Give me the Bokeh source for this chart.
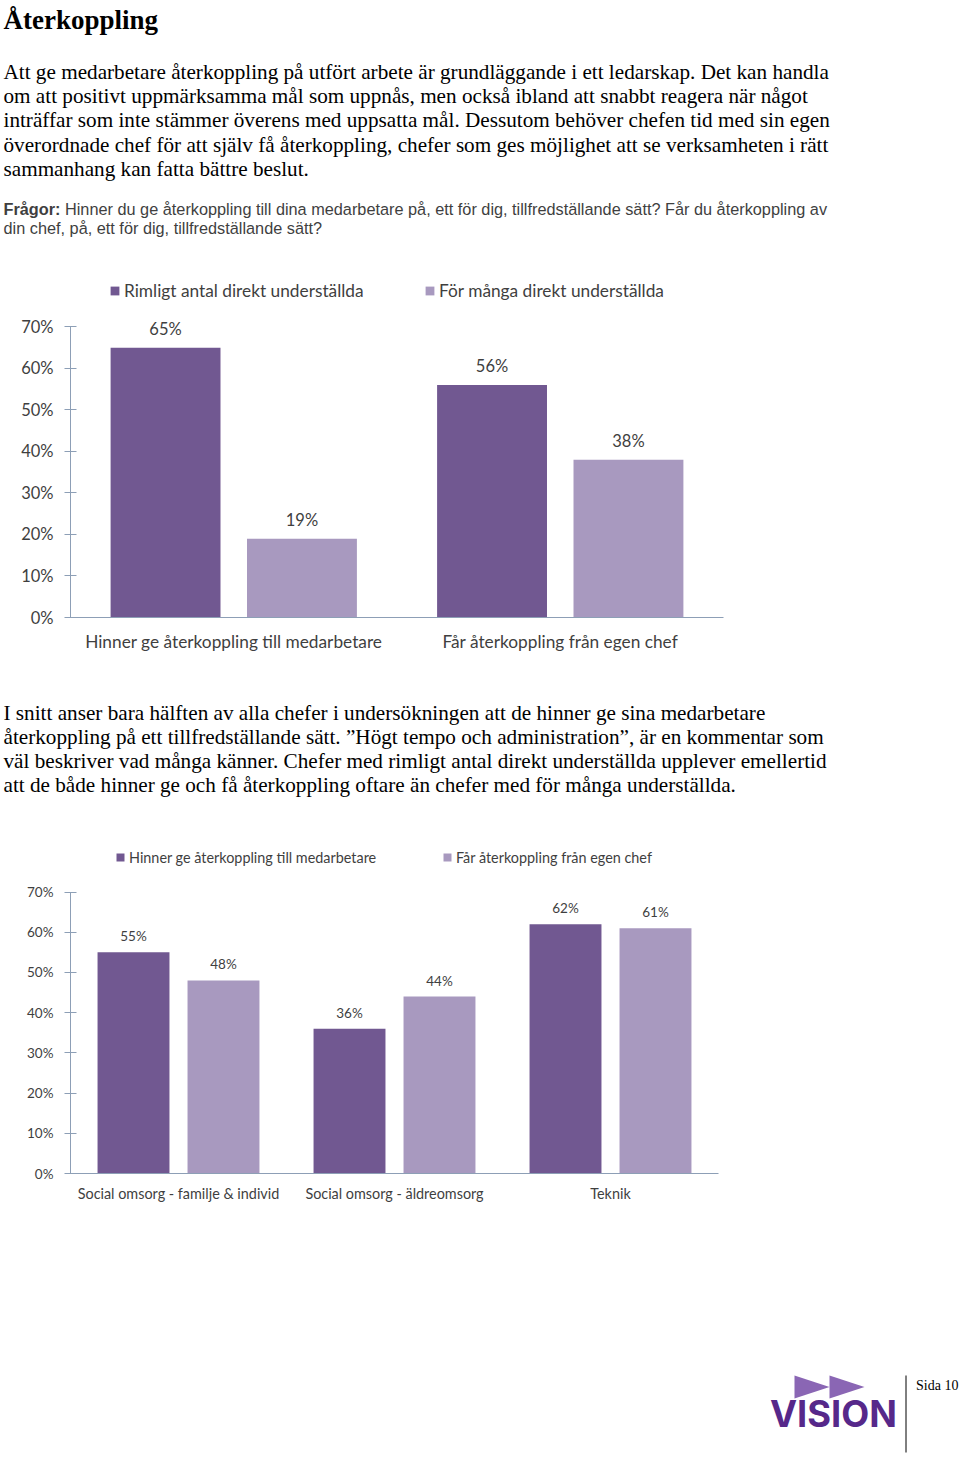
from bokeh.plotting import figure
from bokeh.layouts import column
from bokeh.models import (Range1d, FactorRange, ColumnDataSource, FixedTicker,
                          NumeralTickFormatter, Legend, LegendItem)
from bokeh.transform import dodge
from bokeh.core.properties import value
from bokeh.embed import file_html
from bokeh.resources import INLINE

# ---------------- data ----------------
HEADING = "Återkoppling"
INTRO_LINES = [
    "Att ge medarbetare återkoppling på utfört arbete är grundläggande i ett ledarskap. Det kan handla",
    "om att positivt uppmärksamma mål som uppnås, men också ibland att snabbt reagera när något",
    "inträffar som inte stämmer överens med uppsatta mål. Dessutom behöver chefen tid med sin egen",
    "överordnade chef för att själv få återkoppling, chefer som ges möjlighet att se verksamheten i rätt",
    "sammanhang kan fatta bättre beslut.",
]
QUESTION_LABEL = "Frågor:"
QUESTION_LINES = [
    "Hinner du ge återkoppling till dina medarbetare på, ett för dig, tillfredställande sätt? Får du återkoppling av",
    "din chef, på, ett för dig, tillfredställande sätt?",
]
MID_LINES = [
    "I snitt anser bara hälften av alla chefer i undersökningen att de hinner ge sina medarbetare",
    "återkoppling på ett tillfredställande sätt. \u201dHögt tempo och administration\u201d, är en kommentar som",
    "väl beskriver vad många känner. Chefer med rimligt antal direkt underställda upplever emellertid",
    "att de både hinner ge och få återkoppling oftare än chefer med för många underställda.",
]

C1_CATEGORIES = ["Hinner ge återkoppling till medarbetare", "Får återkoppling från egen chef"]
C1_SERIES = ["Rimligt antal direkt underställda", "För många direkt underställda"]
C1_RIMLIGT = [0.65, 0.56]
C1_FOR_MANGA = [0.19, 0.38]

C2_CATEGORIES = ["Social omsorg - familje & individ", "Social omsorg - äldreomsorg", "Teknik"]
C2_SERIES = ["Hinner ge återkoppling till medarbetare", "Får återkoppling från egen chef"]
C2_HINNER = [0.55, 0.36, 0.62]
C2_FAR = [0.48, 0.44, 0.61]

Y_TICKS = [0.0, 0.1, 0.2, 0.3, 0.4, 0.5, 0.6, 0.7]
PAGE_LABEL = "Sida 10"
LOGO_TEXT = "VISION"

# ---------------- style ----------------
W = 960
DARK = "#715891"
LIGHT = "#A899BF"
AXIS = "#8D9FB6"
LABEL = "#3F3F3F"
SERIF = value("Liberation Serif")
SANS = value("Liberation Sans")
CHART_FONT = "Lato"


def pct(v):
    return f"{round(v * 100)}%"


def text_fig(h):
    p = figure(width=W, height=h, x_range=Range1d(0, W), y_range=Range1d(h, 0),
               x_axis_type=None, y_axis_type=None, toolbar_location=None,
               output_backend="svg", min_border=0, frame_align=False)
    p.outline_line_color = None
    return p


# ---------------- top text ----------------
top = text_fig(262)
top.text(x=[3], y=[19], text=[HEADING], text_font=SERIF, text_font_style="bold",
         text_font_size="27px", text_color="black", text_baseline="alphabetic")
top.text(x=[3] * len(INTRO_LINES), y=[71.3 + 24.25 * i for i in range(len(INTRO_LINES))],
         text=INTRO_LINES, text_font=SERIF, text_font_size="21.2px", text_color="black",
         text_baseline="alphabetic")
top.text(x=[3], y=[208.5], text=[QUESTION_LABEL], text_font=SANS, text_font_style="bold",
         text_font_size="16.3px", text_color=LABEL, text_baseline="alphabetic")
top.text(x=[64.5, 3], y=[208.5, 227.5], text=QUESTION_LINES, text_font=SANS,
         text_font_size="16.3px", text_color=LABEL, text_baseline="alphabetic")


# ---------------- chart helper ----------------
def bar_chart(height, categories, series, a_vals, b_vals, y_end, border_right, border_bottom,
              offset, width, fs_num, fs_lbl, label_gap, legend_x, legend_y, glyph,
              label_standoff, cat_standoff):
    p = figure(width=W, height=height, x_range=FactorRange(*categories),
               y_range=Range1d(0, y_end), toolbar_location=None, output_backend="svg",
               min_border_left=70, min_border_right=border_right, min_border_top=0,
               min_border_bottom=border_bottom, frame_align=False)
    src = ColumnDataSource(dict(cat=categories, a=a_vals, b=b_vals,
                                a_lbl=[pct(v) for v in a_vals],
                                b_lbl=[pct(v) for v in b_vals]))
    xa = dodge("cat", -offset, range=p.x_range)
    xb = dodge("cat", offset, range=p.x_range)
    ra = p.vbar(x=xa, top="a", width=width, source=src, fill_color=DARK, line_color=None)
    rb = p.vbar(x=xb, top="b", width=width, source=src, fill_color=LIGHT, line_color=None)
    for xx, col in ((xa, "a"), (xb, "b")):
        p.text(x=xx, y=col, text=col + "_lbl", source=src, text_align="center",
               text_baseline="middle", y_offset=-label_gap, text_font=value(CHART_FONT),
               text_font_size=fs_num, text_color=LABEL)

    for r, name, lx in ((ra, series[0], legend_x[0]), (rb, series[1], legend_x[1])):
        leg = Legend(items=[LegendItem(label=name, renderers=[r])], location=(lx, legend_y),
                     padding=0, margin=0, spacing=0, glyph_width=glyph, glyph_height=glyph,
                     label_standoff=label_standoff, label_height=20,
                     label_text_font=CHART_FONT, label_text_font_size=fs_lbl,
                     label_text_color=LABEL, background_fill_alpha=0, border_line_alpha=0)
        p.add_layout(leg)

    yax = p.yaxis[0]
    yax.ticker = FixedTicker(ticks=Y_TICKS)
    yax.formatter = NumeralTickFormatter(format="0%")
    yax.bounds = (0, 0.7)
    yax.axis_line_color = AXIS
    yax.major_tick_line_color = AXIS
    yax.major_tick_in = 6
    yax.major_tick_out = 6
    yax.minor_tick_line_color = None
    yax.major_label_standoff = 11
    yax.major_label_text_font = CHART_FONT
    yax.major_label_text_font_size = fs_num
    yax.major_label_text_color = LABEL

    xax = p.xaxis[0]
    xax.axis_line_color = AXIS
    xax.major_tick_line_color = None
    xax.major_tick_in = 0
    xax.major_tick_out = 0
    xax.minor_tick_line_color = None
    xax.major_label_standoff = cat_standoff
    xax.major_label_text_font = CHART_FONT
    xax.major_label_text_font_size = fs_lbl
    xax.major_label_text_color = LABEL

    p.grid.visible = False
    p.outline_line_color = None
    return p


c1 = bar_chart(417, C1_CATEGORIES, C1_SERIES, C1_RIMLIGT, C1_FOR_MANGA, y_end=0.8554,
               border_right=237, border_bottom=62, offset=0.2089, width=0.3366,
               fs_num="16.5px", fs_lbl="17.3px", label_gap=19, legend_x=(39, 354),
               legend_y=316, glyph=11, label_standoff=4, cat_standoff=13)

mid = text_fig(141)
mid.text(x=[3] * len(MID_LINES), y=[33.0 + 24.2 * i for i in range(len(MID_LINES))],
         text=MID_LINES, text_font=SERIF, text_font_size="21.2px", text_color="black",
         text_baseline="alphabetic")

c2 = bar_chart(405, C2_CATEGORIES, C2_SERIES, C2_HINNER, C2_FAR, y_end=0.8778,
               border_right=242, border_bottom=52, offset=0.2083, width=0.333,
               fs_num="13.5px", fs_lbl="14.4px", label_gap=16, legend_x=(45, 372),
               legend_y=306, glyph=10, label_standoff=4, cat_standoff=11)

# ---------------- footer with logo ----------------
bot = text_fig(232)
bot.patches(xs=[[794, 794, 829], [829, 829, 864]], ys=[[150, 173, 161.5], [150, 173, 161.5]],
            fill_color="#8A66B4", line_color=None)
bot.text(x=[769.5], y=[188], text=[LOGO_TEXT], text_font=value("Inter"), text_font_style="bold",
         text_font_size="36.3px", text_color="#56288A", text_baseline="alphabetic")
bot.segment(x0=[905.5], y0=[150], x1=[905.5], y1=[227], line_color="black", line_width=1)
bot.text(x=[915.5], y=[159.5], text=[PAGE_LABEL], text_font=SERIF, text_font_size="14px",
         text_color="black", text_baseline="alphabetic")

page = column(top, c1, mid, c2, bot, spacing=0)

open("out.html", "w").write(file_html(page, INLINE))
